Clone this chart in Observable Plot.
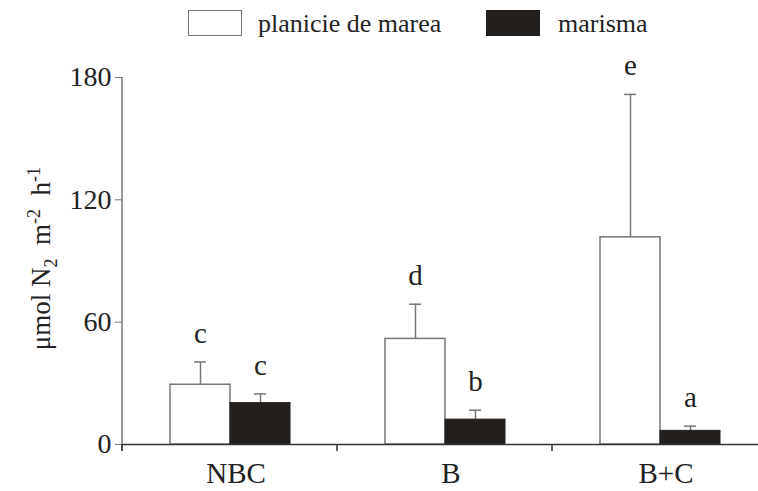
<!DOCTYPE html>
<html><head><meta charset="utf-8">
<script src="https://cdn.jsdelivr.net/npm/d3@7"></script>
<script src="https://cdn.jsdelivr.net/npm/@observablehq/plot@0.6"></script>
<style>
body{margin:0;background:#fff;font-family:"Liberation Serif","Times New Roman",serif;color:#222;}
#legend{position:relative;height:50px;width:758px;}
.sw{position:absolute;top:10px;width:54px;height:26px;box-sizing:border-box;}
.lab{position:absolute;top:11px;font-size:26px;line-height:26px;white-space:nowrap;}
#chart svg, #chart svg text, #chart svg tspan, #chart svg g{font-family:"Liberation Serif","Times New Roman",serif !important;}
</style></head>
<body>
<div id="legend">
  <div class="sw" style="left:188px;border:1.5px solid #777;background:#fff"></div>
  <div class="lab" style="left:258px">planicie de marea</div>
  <div class="sw" style="left:486px;background:#221f1c"></div>
  <div class="lab" style="left:558px">marisma</div>
</div>
<div id="chart"></div>
<script>
const groups = ["NBC", "B", "B+C"];
const series = ["planicie de marea", "marisma"];
const planicieMean = [29.3, 51.8, 101.6];
const planicieSE = [11.2, 17.0, 70.1];
const planicieLetters = ["c", "d", "e"];
const marismaMean = [20.3, 12.2, 6.7];
const marismaSE = [4.5, 4.6, 2.3];
const marismaLetters = ["c", "b", "a"];
const yTicks = [0, 60, 120, 180];

const rows = groups.flatMap((g, i) => [
  {group: g, series: series[0], mean: planicieMean[i], se: planicieSE[i], letter: planicieLetters[i]},
  {group: g, series: series[1], mean: marismaMean[i], se: marismaSE[i], letter: marismaLetters[i]}
]);
const white = rows.filter(d => d.series === series[0]);
const black = rows.filter(d => d.series === series[1]);

const chart = Plot.plot({
  width: 758, height: 441,
  marginTop: 27, marginBottom: 47, marginLeft: 121, marginRight: -10,
  style: {fontFamily: "'Liberation Serif', 'Times New Roman', serif", fontSize: "26px", color: "#222", background: "white"},
  fx: {domain: groups, padding: 0, label: null},
  x: {domain: series, paddingInner: 0, paddingOuter: 0.766, axis: null},
  y: {domain: [0, 180], label: null},
  marks: [
    Plot.axisY({ticks: yTicks, tickSize: 7, tickPadding: 4, stroke: "#777", fill: "#222", label: null, fontSize: 28}),
    Plot.axisFx({anchor: "bottom", tickSize: 0, tickPadding: 18, dx: 6, fill: "#222", label: null, fontSize: 29}),
    Plot.ruleX(rows, {fx: "group", x: "series", y1: "mean", y2: d => d.mean + d.se, stroke: "#777", strokeWidth: 1.5}),
    Plot.tickY(rows, {fx: "group", x: "series", y: d => d.mean + d.se, stroke: "#777", strokeWidth: 1.5, insetLeft: 24, insetRight: 24}),
    Plot.barY(white, {fx: "group", x: "series", y: "mean", fill: "white", stroke: "#777", strokeWidth: 1.5}),
    Plot.barY(black, {fx: "group", x: "series", y: "mean", fill: "#221f1c", stroke: "#221f1c", strokeWidth: 1}),
    Plot.ruleY([0], {stroke: "#333", strokeWidth: 1.5}),
    Plot.text(rows, {fx: "group", x: "series", y: d => d.mean + d.se, text: "letter", dy: -19, lineAnchor: "bottom", fontSize: 29, fill: "#222"})
  ]
});
document.getElementById("chart").appendChild(chart);

// axis decorations using the plot's own scales
const ysc = Plot.scale({y: chart.scale("y")});
const fxs = Plot.scale({fx: chart.scale("fx")});
const svg = d3.select(chart);
const g = svg.append("g").attr("stroke", "#777").attr("stroke-width", 1.5);
const y0 = ysc.apply(0), yTop = ysc.apply(180);
const left = fxs.apply(groups[0]);
g.append("line").attr("x1", left).attr("x2", left).attr("y1", yTop).attr("y2", y0 + 7);
groups.forEach(gr => {
  const x = fxs.apply(gr);
  g.append("line").attr("x1", x).attr("x2", x).attr("y1", y0).attr("y2", y0 + 7).attr("stroke", "#333");
});
const lab = svg.append("text")
  .attr("transform", `translate(50,${(yTop + y0) / 2 - 2}) rotate(-90)`)
  .attr("text-anchor", "middle").attr("fill", "#222")
  .style("font-size", "27px").style("white-space", "pre");
lab.append("tspan").text("μmol N");
lab.append("tspan").attr("dy", 7).style("font-size", "18px").text("2");
lab.append("tspan").attr("dy", -7).text("  m");
lab.append("tspan").attr("dy", -10).style("font-size", "18px").text("-2");
lab.append("tspan").attr("dy", 10).text("  h");
lab.append("tspan").attr("dy", -10).style("font-size", "18px").text("-1");
svg.selectAll("text, tspan").attr("font-family", "Liberation Serif, serif");
</script>
</body></html>
